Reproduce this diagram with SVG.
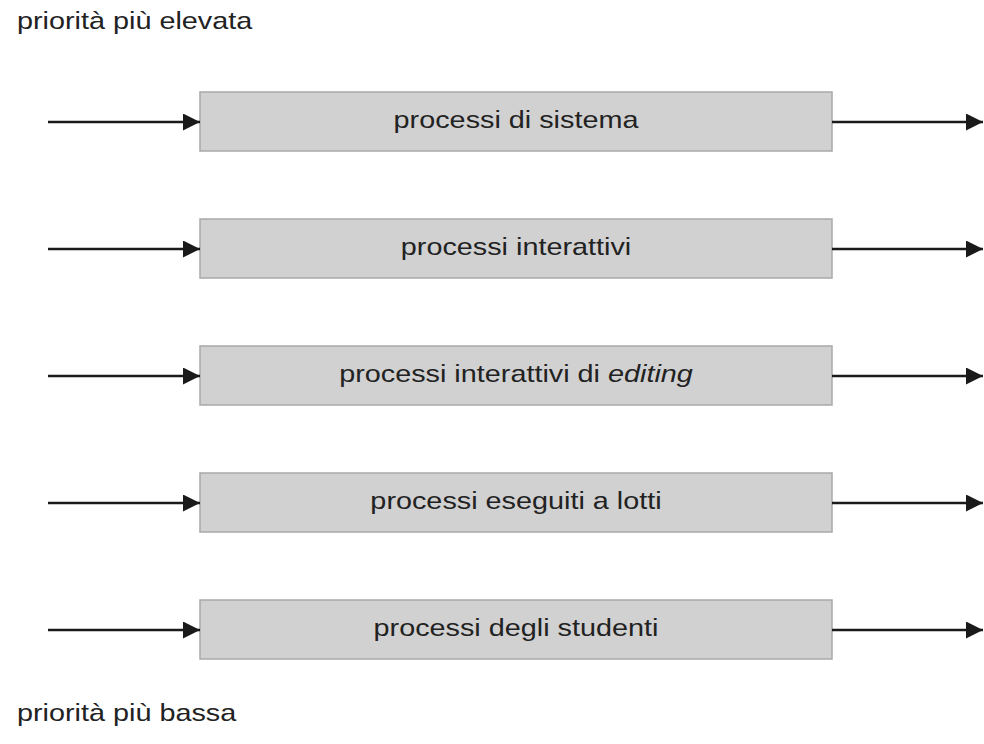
<svg xmlns="http://www.w3.org/2000/svg" width="984" height="744" viewBox="0 0 984 744">
<style>
.lbl{font-family:"Liberation Sans",Arial,sans-serif;font-size:24px;fill:#222}
.box{fill:#d1d1d1;stroke:#a9a9a9;stroke-width:1.5}
.ln{stroke:#1a1a1a;stroke-width:2.5;fill:none}
</style>
<defs>
<marker id="ah" viewBox="0 0 10 10" refX="10" refY="5" markerWidth="17" markerHeight="17" markerUnits="userSpaceOnUse" orient="auto">
<path d="M0,0 L10,5 L0,10 Z" fill="#1a1a1a"/>
</marker>
</defs>
<rect width="984" height="744" fill="#fff"/>
<text class="lbl" transform="translate(17,29) scale(1.2,1)">priorità più elevata</text>
<text class="lbl" transform="translate(17,721) scale(1.2,1)">priorità più bassa</text>
<g id="n1"><rect class="box" x="200" y="92" width="632" height="59"/><text class="lbl" transform="translate(516,128) scale(1.2,1)" text-anchor="middle">processi di sistema</text></g>
<g id="n2"><rect class="box" x="200" y="219" width="632" height="59"/><text class="lbl" transform="translate(516,255) scale(1.2,1)" text-anchor="middle">processi interattivi</text></g>
<g id="n3"><rect class="box" x="200" y="346" width="632" height="59"/><text class="lbl" transform="translate(516,382) scale(1.2,1)" text-anchor="middle">processi interattivi di <tspan font-style="italic">editing</tspan></text></g>
<g id="n4"><rect class="box" x="200" y="473" width="632" height="59"/><text class="lbl" transform="translate(516,509) scale(1.2,1)" text-anchor="middle">processi eseguiti a lotti</text></g>
<g id="n5"><rect class="box" x="200" y="600" width="632" height="59"/><text class="lbl" transform="translate(516,636) scale(1.2,1)" text-anchor="middle">processi degli studenti</text></g>
<g id="connectors">
<line class="ln" x1="48" y1="122" x2="200" y2="122" marker-end="url(#ah)"/>
<line class="ln" x1="832" y1="122" x2="983" y2="122" marker-end="url(#ah)"/>
<line class="ln" x1="48" y1="249" x2="200" y2="249" marker-end="url(#ah)"/>
<line class="ln" x1="832" y1="249" x2="983" y2="249" marker-end="url(#ah)"/>
<line class="ln" x1="48" y1="376" x2="200" y2="376" marker-end="url(#ah)"/>
<line class="ln" x1="832" y1="376" x2="983" y2="376" marker-end="url(#ah)"/>
<line class="ln" x1="48" y1="503" x2="200" y2="503" marker-end="url(#ah)"/>
<line class="ln" x1="832" y1="503" x2="983" y2="503" marker-end="url(#ah)"/>
<line class="ln" x1="48" y1="630" x2="200" y2="630" marker-end="url(#ah)"/>
<line class="ln" x1="832" y1="630" x2="983" y2="630" marker-end="url(#ah)"/>
</g>
</svg>
